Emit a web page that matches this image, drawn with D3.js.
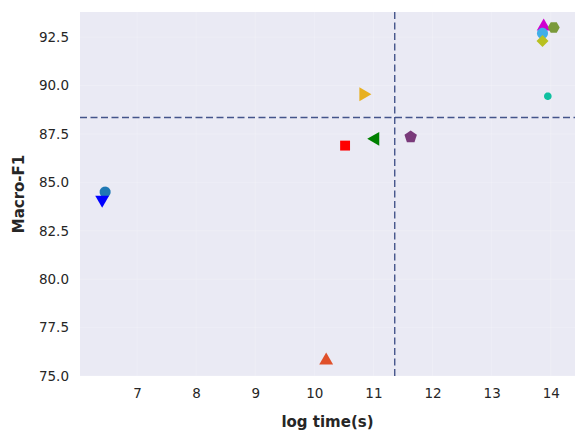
<!DOCTYPE html>
<html><head><meta charset="utf-8">
<script src="https://cdn.jsdelivr.net/npm/d3@7"></script>
<style>body{margin:0;background:#fff}svg{display:block}</style>
</head><body><div id="c"></div>
<script>
// Data
const methods = ["M1","M2","M3","M4","M5","M6","M7","M8","M9","M10","M11","M12"];
const logTime = [6.46, 6.41, 10.20, 10.52, 11.03, 10.83, 11.63, 13.95, 13.88, 14.05, 13.86, 13.86];
const macroF1 = [84.5, 84.1, 75.8, 86.9, 87.25, 89.55, 87.35, 89.45, 93.05, 93.0, 92.7, 92.3];
const xTicks = [7, 8, 9, 10, 11, 12, 13, 14];
const yTicks = [75.0, 77.5, 80.0, 82.5, 85.0, 87.5, 90.0, 92.5];
const refX = [11.36];
const refY = [88.35];
// Styles
const markerShape = ["circle","triDown","triUp","square","triLeft","triRight","pentagon","smallCircle","triUp","hexagon","circle","diamond"];
const markerColor = ["#1f78b4","#0000ff","#e0502a","#ff0000","#008000","#e8b020","#7a3a7a","#10c0a0","#d000d0","#7a9a3a","#40aee8","#b8c020"];

const W = 586, H = 441;
const m = {l:80, r:11, t:12, b:65};
const svg = d3.select("#c").append("svg").attr("width", W).attr("height", H);
const x = d3.scaleLinear().domain([6.035, 14.41]).range([m.l, W - m.r]);
const y = d3.scaleLinear().domain([75.0, 93.8]).range([H - m.b, m.t]);

svg.append("rect").attr("x", m.l).attr("y", m.t).attr("width", W - m.r - m.l).attr("height", H - m.b - m.t).attr("fill", "#eaeaf4");

const g = svg.append("g");
g.selectAll(".gx").data(xTicks).join("line").attr("x1", d => x(d)).attr("x2", d => x(d)).attr("y1", m.t).attr("y2", H - m.b).attr("stroke", "#fff").attr("stroke-opacity", 0.2);
g.selectAll(".gy").data(yTicks).join("line").attr("y1", d => y(d)).attr("y2", d => y(d)).attr("x1", m.l).attr("x2", W - m.r).attr("stroke", "#fff").attr("stroke-opacity", 0.2);

const xa = svg.append("g").attr("transform", `translate(0,${H - m.b})`).call(d3.axisBottom(x).tickValues(xTicks).tickSize(0).tickPadding(12).tickFormat(d3.format("d")));
const ya = svg.append("g").attr("transform", `translate(${m.l},0)`).call(d3.axisLeft(y).tickValues(yTicks).tickSize(0).tickPadding(11).tickFormat(d3.format(".1f")));
[xa, ya].forEach(a => { a.select(".domain").remove(); a.selectAll("text").attr("font-family", "DejaVu Sans").attr("font-size", 13.5).attr("fill", "#262626"); });

svg.append("text").attr("x", (m.l + W - m.r) / 2).attr("y", 427).attr("text-anchor", "middle").attr("font-family", "DejaVu Sans").attr("font-weight", "bold").attr("font-size", 15).attr("fill", "#262626").text("log time(s)");
svg.append("text").attr("transform", `translate(24,${(m.t + H - m.b) / 2}) rotate(-90)`).attr("text-anchor", "middle").attr("font-family", "DejaVu Sans").attr("font-weight", "bold").attr("font-size", 15).attr("fill", "#262626").text("Macro-F1");

// reference dashed lines
svg.selectAll(".rx").data(refX).join("line").attr("x1", d => x(d)).attr("x2", d => x(d)).attr("y1", m.t).attr("y2", H - m.b).attr("stroke", "#44548a").attr("stroke-width", 1.4).attr("stroke-dasharray", "7,3.5");
svg.selectAll(".ry").data(refY).join("line").attr("y1", d => y(d)).attr("y2", d => y(d)).attr("x1", m.l).attr("x2", W - m.r).attr("stroke", "#44548a").attr("stroke-width", 1.4).attr("stroke-dasharray", "7,3.5");

function poly(n, r, rot) {
  const pts = [];
  for (let i = 0; i < n; i++) { const a = rot + i * 2 * Math.PI / n; pts.push([r * Math.cos(a), r * Math.sin(a)]); }
  return "M" + pts.map(p => p.join(",")).join("L") + "Z";
}
function shapePath(s) {
  switch (s) {
    case "circle": return poly(40, 5.5, 0);
    case "smallCircle": return poly(40, 3.8, 0);
    case "triDown": return poly(3, 8, Math.PI / 2);
    case "triUp": return poly(3, 8, -Math.PI / 2);
    case "triLeft": return poly(3, 8, Math.PI);
    case "triRight": return poly(3, 8, 0);
    case "square": return poly(4, 7, Math.PI / 4);
    case "pentagon": return poly(5, 6.5, -Math.PI / 2);
    case "hexagon": return poly(6, 6, 0);
    case "diamond": return poly(4, 6, 0);
  }
}
svg.selectAll(".pt").data(methods).join("path")
  .attr("transform", (d, i) => `translate(${x(logTime[i])},${y(macroF1[i])})`)
  .attr("d", (d, i) => shapePath(markerShape[i]))
  .attr("fill", (d, i) => markerColor[i]);
</script></body></html>
